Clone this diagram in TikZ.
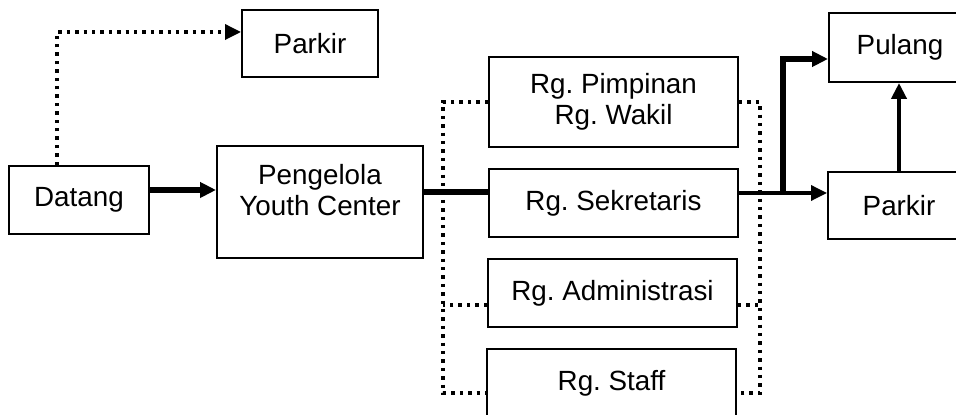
\documentclass[tikz,border=0pt]{standalone}
\usepackage{fontspec}
\setmainfont{Liberation Sans}
\usetikzlibrary{arrows.meta}
\frenchspacing

\begin{document}
\begin{tikzpicture}[x=0.5pt,y=-0.5pt,>={Triangle[length=8pt,width=7.5pt]},
                    box/.style={draw,line width=1pt,align=center,inner sep=0pt,font=\fontsize{13.9}{15.5}\selectfont},
                    dotline/.style={line width=1.7pt,dash pattern=on 1.7pt off 2.5pt},
                    heavy/.style={line width=2.6pt}]

  \useasboundingbox (0,0) rectangle (956,415);

  % left part
  \node[box,minimum width=70pt,minimum height=34pt] (datang) at (79,200) {Datang};
  \node[box,minimum width=103pt,minimum height=56pt,text depth=12pt] (peng) at (320,202) {Pengelola\\Youth Center};
  \node[box,minimum width=68pt,minimum height=33.5pt] (parkirA) at (310,43.5) {Parkir};

  % ruang
  \node[box,minimum width=124.5pt,minimum height=45pt] (pimpinan) at (613.5,102) {Rg. Pimpinan\\Rg. Wakil};
  \node[box,minimum width=124.5pt,minimum height=34pt] (sekretaris) at (613.5,203) {Rg. Sekretaris};
  \node[box,minimum width=124.5pt,minimum height=34pt] (admin) at (612.5,293) {Rg. Administrasi};
  \node[box,minimum width=124.5pt,minimum height=34pt] (staff) at (611.5,383) {Rg. Staff};

  % right part
  \node[box,minimum width=71pt,minimum height=34.5pt] (pulang) at (900,47.5) {Pulang};
  \node[box,minimum width=71pt,minimum height=33.5pt] (parkirB) at (899,205.5) {Parkir};

  \coordinate (split) at (783,193);
  \coordinate (lb) at (443,393);
  \coordinate (rb) at (760,393);

  \draw[dotline,->] ([xshift=-11pt]datang.north) |- ([yshift=5.75pt]parkirA.west);
  \draw[heavy,->] ([yshift=5pt]datang.east) -- ([yshift=5pt]datang.east -| peng.west);

  \draw[dotline] (pimpinan.west) -| (lb) -- (lb -| staff.west);
  \draw[dotline] (pimpinan.east) -| (rb) -- (rb -| staff.east);
  \draw[dotline] ([yshift=-6pt]admin.west) -- ([yshift=-6pt]admin.west -| lb);
  \draw[dotline] ([yshift=-6pt]admin.east) -- ([yshift=-6pt]admin.east -| rb);

  \draw[heavy] ([yshift=5pt]peng.east) -- ([yshift=5pt]peng.east -| sekretaris.west);
  \draw[->,line width=1.7pt] ([yshift=5pt]sekretaris.east) -- ([yshift=5pt]sekretaris.east -| parkirB.west);
  \draw[heavy,->] (split) |- ([yshift=-5.75pt]pulang.west);
  \draw[->,line width=2pt] (parkirB.north) -- (parkirB.north |- pulang.south);
\end{tikzpicture}
\end{document}
